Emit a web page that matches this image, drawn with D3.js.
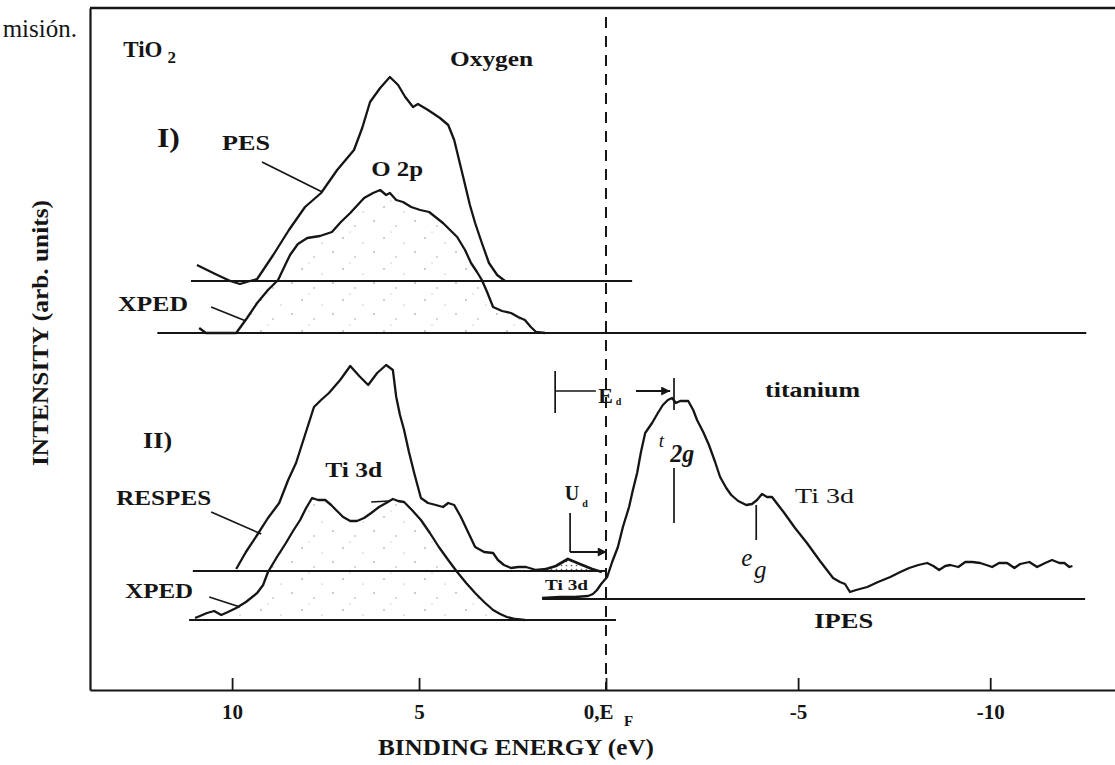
<!DOCTYPE html>
<html>
<head>
<meta charset="utf-8">
<script src="https://cdn.jsdelivr.net/npm/d3@7"></script>
<style>
  html, body { margin: 0; background: #fff; }
  svg { display: block; font-family: "Liberation Serif", "Times New Roman", serif; }
</style>
</head>
<body>
<svg id="chart" width="1115" height="765"></svg>
<script>
// ---- Binding-energy axis ----
const xTicks = [10, 5, 0, -5, -10];
const xTickLabels = ["10", "5", "0,E", "-5", "-10"];

// ---- Stack offsets (arb. units) of each spectrum's zero line ----
const levelPES = 204.5;      // PES, O 2p
const levelXPEDO = 178.5;    // XPED, O 2p
const levelRESPES = 59.5;    // RESPES, Ti 3d
const levelXPEDTi = 35;      // XPED, Ti 3d
const levelIPES = 45.5;      // IPES, Ti 3d

// zero-line extents [from eV, to eV]
const spanPES = [11.1, -0.68];
const spanXPEDO = [12.0, -12.5];
const spanRESPES = [11.05, 0];
const spanXPEDTi = [11.15, -0.26];
const spanIPES = [1.71, -12.47];

// ---- Spectra: [binding energy (eV), intensity above zero line] ----
const pesO2p = [[10.94,8],[10.45,3.5],[10.05,0],[9.79,-1.5],[9.52,0],[9.33,1],[8.90,13],[8.48,25.5],
  [8.05,37],[7.62,44],[7.19,55.5],[6.74,65.5],[6.52,76.5],[6.31,89.5],[6.04,96.5],[5.78,102],[5.56,98],
  [5.37,92],[5.16,87],[5.03,88.5],[4.76,85.5],[4.44,81.5],[4.22,78],[4.06,70.5],[3.93,60.5],[3.80,50.5],
  [3.64,38],[3.50,29],[3.32,19],[3.13,9],[2.91,3],[2.70,0]];

const xpedO2p = [[10.88,2.5],[10.70,0],[9.89,0],[9.60,7.5],[9.33,15],[9.04,21.5],[8.77,26.5],[8.58,34],
  [8.45,39],[8.24,44.5],[7.99,47.5],[7.65,48.5],[7.33,50.5],[7.09,55.5],[6.84,60],[6.47,67.5],[6.23,70],
  [6.04,71.5],[5.88,69],[5.78,70],[5.61,66.5],[5.43,65.5],[5.21,63],[4.97,61.5],[4.73,60.5],[4.36,55],
  [3.98,48],[3.77,41.5],[3.61,35],[3.45,30.5],[3.32,26.5],[3.18,20.5],[3.02,13],[2.78,11],[2.54,10],
  [2.35,8],[2.17,6.5],[2.01,3],[1.87,0.5],[1.63,0]];

const respesTi3d = [[9.89,1],[9.63,9.5],[9.33,18],[9.04,26.5],[8.74,34],[8.50,45.5],[8.29,54],[8.05,68],
  [7.81,82],[7.62,85.5],[7.41,89],[7.11,95.5],[6.84,102.5],[6.60,97.5],[6.36,93],[6.12,99],[5.88,103],
  [5.70,100.5],[5.61,87],[5.51,78],[5.40,70.5],[5.27,59.5],[5.13,49],[4.95,36.5],[4.76,34],[4.55,33],
  [4.36,32],[4.22,34],[4.06,33],[3.88,27],[3.69,19.5],[3.50,12],[3.26,9.5],[3.02,9],[2.89,5.5],[2.73,3],
  [2.54,1.5],[2.35,2],[2.14,2],[1.87,0.5],[1.60,1]];

// in-gap Ti 3d state just below E_F
const respesGap = [[1.60,1],[1.34,2.5],[1.02,6],[0.70,3.5],[0.37,1],[0.11,-0.5]];

const xpedTi3d = [[10.99,1],[10.86,2],[10.67,3.5],[10.48,4.5],[10.29,2.5],[10.11,4],[9.89,6],[9.63,9],
  [9.33,13.5],[9.17,17.5],[9.04,24],[8.80,31.5],[8.56,38.5],[8.37,44.5],[8.18,50],[8.02,56],[7.86,61],
  [7.70,60],[7.51,60],[7.35,57.5],[7.22,55],[7.03,51.5],[6.84,49.5],[6.66,49.5],[6.47,51],[6.28,53.5],
  [6.07,56.5],[5.88,58.5],[5.70,60.5],[5.56,59.5],[5.40,59],[5.19,55],[4.95,50],[4.71,43.5],[4.47,36.5],
  [4.22,30],[3.98,24],[3.74,18.5],[3.50,13.5],[3.26,9],[3.02,5],[2.83,3],[2.65,1.5],[2.43,0.5],[2.17,0]];

const ipesTi3d = [[1.71,0.5],[1.23,1],[0.83,1],[0.48,1.5],[0.35,2.5],[0.24,4.5],[0.13,7.5],[-0.03,11],
  [-0.16,18.5],[-0.31,26],[-0.44,36],[-0.60,46],[-0.70,54.5],[-0.81,63],[-0.91,73.5],[-1.02,83],[-1.20,88],
  [-1.35,93],[-1.48,97],[-1.61,99.5],[-1.72,100.5],[-1.82,98],[-1.93,99],[-2.14,99],[-2.27,94.5],
  [-2.37,89.5],[-2.53,83.5],[-2.68,77],[-2.84,68.5],[-2.97,61],[-3.13,55.5],[-3.26,52],[-3.44,49],
  [-3.65,47],[-3.80,47.5],[-3.93,49.5],[-4.06,52.5],[-4.19,51],[-4.32,51],[-4.48,47],[-4.64,43],
  [-4.92,35.5],[-5.23,28],[-5.57,19],[-5.91,10.5],[-6.09,8.5],[-6.22,7.5],[-6.35,3.5],[-6.51,4.5],
  [-6.80,6],[-7.08,8.5],[-7.40,11],[-7.66,13.5],[-7.89,15.5],[-8.13,17],[-8.36,18],[-8.52,16.5],
  [-8.67,14.5],[-8.83,16.5],[-8.96,17],[-9.17,16],[-9.35,18.5],[-9.53,18.5],[-9.74,18],[-9.90,17],
  [-10.05,16],[-10.23,18],[-10.44,18],[-10.63,15.5],[-10.78,17.5],[-11.02,18.5],[-11.22,16],[-11.43,18],
  [-11.61,19.5],[-11.80,18],[-11.93,18],[-12.06,16],[-12.14,16.5]];

// ---- Annotation geometry in data coordinates [eV, arb. units] ----
const leaderLines = [
  [[9.20,264],[7.59,249]],     // PES
  [[10.56,191.5],[9.63,184.5]],// XPED (O)
  [[10.56,89],[9.22,78]],      // RESPES
  [[10.61,46.5],[9.79,41.5]],  // XPED (Ti)
  [[6.28,94],[5.80,94.5]]      // Ti 3d
];
const markerLines = [
  [[1.36,138.5],[1.36,159.5]],  // E_d bracket
  [[1.34,149.5],[0.27,149.5]],
  [[-1.77,156],[-1.77,140]],    // t2g position
  [[-1.77,111],[-1.77,83.5]],
  [[0.96,88.5],[0.96,69]],      // U_d
  [[-3.91,92.5],[-3.91,75]]     // e_g position
];
const arrowLines = [
  [[-0.78,149.5],[-1.67,149.5]], // E_d
  [[0.96,69],[-0.02,69]]         // U_d
];

const labels = [
  {t:"TiO", sub:"2", E:12.91, v:316.5},
  {t:"Oxygen", E:4.17, v:312},
  {t:"I)", E:12.01, v:271.5},
  {t:"PES", E:10.27, v:270},
  {t:"O 2p", E:6.28, v:257},
  {t:"XPED", E:13.05, v:189.5},
  {t:"II)", E:12.38, v:121},
  {t:"Ti 3d", E:7.51, v:106.5},
  {t:"RESPES", E:13.10, v:92.5},
  {t:"XPED", E:12.86, v:46},
  {t:"U", sub:"d", E:1.10, v:95},
  {t:"E", sub:"d", E:0.21, v:143.5},
  {t:"titanium", E:-4.14, v:146.5},
  {t:"t", E:-1.37, v:121.5},
  {t:"2g", E:-1.67, v:114},
  {t:"Ti 3d", E:-4.92, v:93.5},
  {t:"e", E:-3.52, v:62},
  {t:"g", E:-3.85, v:56},
  {t:"IPES", E:-5.42, v:31},
  {t:"Ti 3d", E:1.63, v:50}
];
// font size, weight, style, fitted width, subscript size/offsets
const labelStyle = [
  {size:23, w:40, subSize:17, dx:5, dy:6},
  {size:22, w:83},
  {size:27, w:23},
  {size:22, w:48},
  {size:20, w:52},
  {size:21, w:70},
  {size:24, w:29},
  {size:22, w:57},
  {size:22, w:95},
  {size:22, w:68},
  {size:20, subSize:10, dx:3, dy:7},
  {size:22, subSize:10, dx:3, dy:2},
  {size:21, w:95},
  {size:19, italic:true, weight:"normal"},
  {size:25, w:24, italic:true},
  {size:22, w:59, weight:"normal"},
  {size:25, italic:true, weight:"normal"},
  {size:25, italic:true, weight:"normal"},
  {size:22, w:59},
  {size:14, w:43}
];

// ---- Drawing ----
const ink = "#151515";
const svg = d3.select("#chart");
const x = d3.scaleLinear().domain([13.8, 0, -13.3]).range([90, 606, 1117]);
const y = d3.scaleLinear().domain([0, 341]).range([690, 8]);

const defs = svg.append("defs");
// sparse, irregular stipple for the shaded XPED areas
const pat = defs.append("pattern").attr("id", "stipple")
  .attr("patternUnits", "userSpaceOnUse").attr("width", 41).attr("height", 31);
[[5, 4, 0.8], [27, 9, 0.7], [15, 21, 0.8], [35, 26, 0.6], [22, 15, 0.5]].forEach(([cx, cy, r]) =>
  pat.append("circle").attr("cx", cx).attr("cy", cy).attr("r", r).attr("fill", "#8c8c8c"));
const patDense = defs.append("pattern").attr("id", "stippleDense")
  .attr("patternUnits", "userSpaceOnUse").attr("width", 5).attr("height", 4);
patDense.append("circle").attr("cx", 1.5).attr("cy", 1.5).attr("r", 0.8).attr("fill", "#555");
defs.append("marker").attr("id", "arrowHead")
  .attr("viewBox", "0 0 10 10").attr("refX", 10).attr("refY", 5)
  .attr("markerWidth", 13).attr("markerHeight", 9)
  .attr("markerUnits", "userSpaceOnUse").attr("orient", "auto")
  .append("path").attr("d", "M0,0L10,5L0,10z").attr("fill", ink);

const lineAt = level => d3.line().x(d => x(d[0])).y(d => y(level + d[1]));
const areaAt = level => d3.area().x(d => x(d[0])).y0(y(level)).y1(d => y(level + d[1]));
const segment = d3.line().x(d => x(d[0])).y(d => y(d[1]));

// stippled regions under the XPED spectra and the gap state
svg.append("path").attr("d", areaAt(levelXPEDO)(xpedO2p)).attr("fill", "url(#stipple)");
svg.append("path").attr("d", areaAt(levelXPEDTi)(xpedTi3d)).attr("fill", "url(#stipple)");
svg.append("path").attr("d", areaAt(levelRESPES)(respesGap)).attr("fill", "url(#stippleDense)");

// frame: left and top edges
svg.append("g").attr("transform", `translate(${x(13.8)},0)`)
  .call(d3.axisLeft(y).tickValues([]).tickSizeOuter(0))
  .call(g => g.select(".domain").attr("stroke", ink).attr("stroke-width", 2.2));
svg.append("path").attr("d", segment([[13.8, 341], [-13.3, 341]]))
  .attr("stroke", ink).attr("stroke-width", 2.6).attr("fill", "none");

// bottom axis
const xAxis = svg.append("g").attr("transform", `translate(0,${y(0)})`)
  .call(d3.axisBottom(x).tickValues(xTicks).tickSizeInner(-12).tickSizeOuter(0)
    .tickPadding(14).tickFormat((d, i) => xTickLabels[i]));
xAxis.select(".domain").attr("stroke", ink).attr("stroke-width", 2.2);
xAxis.selectAll(".tick line").attr("stroke", ink).attr("stroke-width", 1.8);
xAxis.selectAll(".tick text").attr("fill", ink)
  .attr("font-family", "Liberation Serif, serif").attr("font-size", 21).attr("font-weight", "bold");
xAxis.selectAll(".tick").filter(d => d === 0).each(function () {
  const g = d3.select(this);
  g.select("text").attr("text-anchor", "end").attr("x", 7);
  g.append("text").text("F").attr("x", 22).attr("y", 36).attr("fill", ink)
    .attr("text-anchor", "middle")
    .attr("font-family", "Liberation Serif, serif").attr("font-size", 15).attr("font-weight", "bold");
});

// Fermi level
svg.append("path").attr("d", segment([[0, 336.5], [0, 0]]))
  .attr("stroke", ink).attr("stroke-width", 2).attr("stroke-dasharray", "11,8").attr("fill", "none");

// zero lines of the stacked spectra
[[levelPES, spanPES], [levelXPEDO, spanXPEDO], [levelRESPES, spanRESPES],
 [levelXPEDTi, spanXPEDTi], [levelIPES, spanIPES]].forEach(([lv, sp]) => {
  svg.append("path").attr("d", segment([[sp[0], lv], [sp[1], lv]]))
    .attr("stroke", ink).attr("stroke-width", 2.2).attr("fill", "none");
});

// spectra
[[pesO2p, levelPES], [xpedO2p, levelXPEDO], [respesTi3d, levelRESPES],
 [xpedTi3d, levelXPEDTi], [ipesTi3d, levelIPES]].forEach(([data, lv]) => {
  svg.append("path").attr("d", lineAt(lv)(data))
    .attr("stroke", ink).attr("stroke-width", 2.3).attr("fill", "none")
    .attr("stroke-linejoin", "round");
});
svg.append("path").attr("d", lineAt(levelRESPES)(respesGap))
  .attr("stroke", ink).attr("stroke-width", 2.8).attr("fill", "none").attr("stroke-linejoin", "round");

// leaders, markers and arrows
leaderLines.concat(markerLines).forEach(seg => {
  svg.append("path").attr("d", segment(seg))
    .attr("stroke", ink).attr("stroke-width", 1.7).attr("fill", "none");
});
arrowLines.forEach(seg => {
  svg.append("path").attr("d", segment(seg))
    .attr("stroke", ink).attr("stroke-width", 1.9).attr("fill", "none")
    .attr("marker-end", "url(#arrowHead)");
});

// labels
labels.forEach((l, i) => {
  const s = labelStyle[i];
  const t = svg.append("text").attr("x", x(l.E)).attr("y", y(l.v)).attr("fill", ink)
    .attr("font-size", s.size).attr("font-weight", s.weight || "bold")
    .attr("font-style", s.italic ? "italic" : "normal");
  if (l.sub) {
    t.append("tspan").text(l.t);
    t.append("tspan").text(l.sub).attr("font-size", s.subSize).attr("dx", s.dx).attr("dy", s.dy);
  } else {
    t.text(l.t);
    if (s.w) t.attr("textLength", s.w).attr("lengthAdjust", "spacingAndGlyphs");
  }
});

// page text
svg.append("text").text("misión.").attr("x", 77).attr("y", 37)
  .attr("text-anchor", "end").attr("font-size", 25).attr("fill", ink);
svg.append("text").text("INTENSITY (arb. units)")
  .attr("transform", "translate(48,333) rotate(-90)")
  .attr("text-anchor", "middle").attr("font-size", 24).attr("font-weight", "bold").attr("fill", ink)
  .attr("textLength", 266).attr("lengthAdjust", "spacingAndGlyphs");
svg.append("text").text("BINDING ENERGY (eV)").attr("x", 516).attr("y", 755)
  .attr("text-anchor", "middle").attr("font-size", 23).attr("font-weight", "bold").attr("fill", ink)
  .attr("textLength", 276).attr("lengthAdjust", "spacingAndGlyphs");
</script>
</body>
</html>
